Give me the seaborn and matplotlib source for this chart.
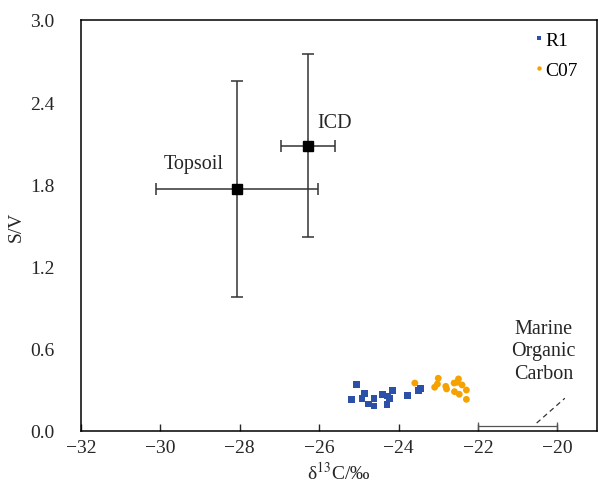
import numpy as np
import pandas as pd
import matplotlib
matplotlib.use("Agg")
import matplotlib.pyplot as plt
import seaborn as sns

# ==========================
# Data
# ==========================

r1_d13c = [-25.06, -24.86, -25.18, -24.92, -24.76, -24.62, -24.62, -24.40,
           -24.28, -24.16, -24.23, -24.29, -23.78, -23.50, -23.44]
r1_sv = [0.338, 0.275, 0.229, 0.236, 0.197, 0.238, 0.182, 0.268,
         0.255, 0.297, 0.238, 0.192, 0.261, 0.297, 0.311]

c07_d13c = [-23.59, -23.00, -23.02, -23.09, -22.81, -22.79, -22.60, -22.49,
            -22.52, -22.40, -22.59, -22.47, -22.29, -22.29]
c07_sv = [0.350, 0.385, 0.343, 0.319, 0.326, 0.307, 0.350, 0.380,
          0.355, 0.336, 0.287, 0.268, 0.299, 0.231]

end_names = ["Topsoil", "ICD"]
end_d13c = [-28.07, -26.29]
end_sv = [1.766, 2.083]
end_xerr = [2.05, 0.68]
end_yerr = [0.79, 0.67]

marine_d13c = -21.0
marine_sv = 0.035
marine_xerr = 1.0
marine_line_x = [-20.52, -19.81]
marine_line_y = [0.058, 0.239]

xticks = [-32, -30, -28, -26, -24, -22, -20]
yticks = [0.0, 0.6, 1.2, 1.8, 2.4, 3.0]

df = pd.DataFrame({
    "d13C": r1_d13c + c07_d13c,
    "SV": r1_sv + c07_sv,
    "group": ["R1"] * len(r1_d13c) + ["C07"] * len(c07_d13c),
})

# ==========================
# Plot
# ==========================

sns.set_style("ticks")
plt.rcParams["font.family"] = ["Liberation Serif", "DejaVu Serif"]
plt.rcParams["mathtext.fontset"] = "stix"

fig = plt.figure(figsize=(5.98, 4.89), dpi=100)
ax = fig.add_axes([0.1355, 0.1166, 0.8628, 0.8405])

sns.scatterplot(
    data=df, x="d13C", y="SV", hue="group", style="group",
    palette={"R1": "#2C4FA8", "C07": "#F5A200"},
    markers={"R1": "s", "C07": "o"},
    s=24, linewidth=0, ax=ax, zorder=3
)

ax.errorbar(end_d13c, end_sv, xerr=end_xerr, yerr=end_yerr,
            fmt="s", color="black", ecolor="#333333", markersize=7,
            elinewidth=1.1, capsize=4, capthick=1.1, zorder=4)

labels_xy = [(-29.15, 1.956), (-25.61, 2.255)]
for name, (tx, ty) in zip(end_names, labels_xy):
    ax.text(tx, ty, name, fontsize=14.5, ha="center", va="center")

ax.errorbar([marine_d13c], [marine_sv], xerr=[marine_xerr], fmt="none",
            ecolor="#555555", elinewidth=0.9, capsize=3, capthick=0.9)
ax.plot(marine_line_x, marine_line_y, color="#333333", lw=0.9,
        linestyle=(0, (4, 3)))
ax.text(-20.34, 0.584, "Marine\nOrganic\nCarbon", fontsize=14.5,
        ha="center", va="center", linespacing=1.25)

ax.set_xlim(-32, -19)
ax.set_ylim(0, 3.0)
ax.set_xticks(xticks)
ax.set_xticklabels(["\u2212%d" % abs(t) for t in xticks])
ax.set_yticks(yticks)
ax.set_yticklabels(["%.1f" % t for t in yticks])
ax.tick_params(axis="x", direction="in", length=5, width=1, labelsize=14, pad=6)
ax.tick_params(axis="y", length=0, labelsize=14, pad=19)

ax.set_xlabel(r"δ$^{13}$C/‰", fontsize=14, labelpad=3)
ax.set_ylabel("S/V", fontsize=14, labelpad=4)

for sp in ax.spines.values():
    sp.set_linewidth(1.1)
    sp.set_color("black")

leg = ax.legend(loc="upper right", frameon=False, fontsize=14,
                handletextpad=-0.2, handlelength=1.0, labelspacing=0.6,
                markerscale=0.65, borderaxespad=0.2,
                bbox_to_anchor=(0.985, 1.0))
for t in leg.get_texts():
    t.set_color("black")

fig.savefig("out.png", dpi=100)
